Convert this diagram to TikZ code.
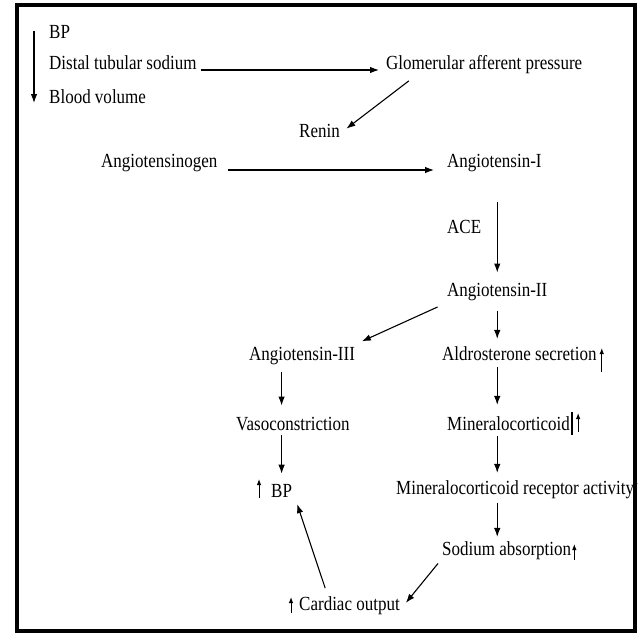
\documentclass[tikz,border=0pt]{standalone}
\usepackage{fontspec}
\setmainfont{Liberation Serif}[FakeStretch=0.85]
\usetikzlibrary{arrows.meta}
\begin{document}
\begin{tikzpicture}[x=1pt,y=-1pt,term/.style={anchor=base west,inner sep=4pt,font=\fontsize{20}{24}\selectfont},flow/.style={-{Latex[length=9pt,width=6.5pt]},line width=1.1pt,shorten >=3pt},rise/.style={-{Latex[length=6pt,width=4.5pt]},line width=1pt}]
\useasboundingbox (0,0) rectangle (639,634);
\draw[line width=4pt] (17,5) rectangle (634.5,631);

\node[term] (bp1) at (45,38) {BP};
\node[term] (dts) at (45,70) {Distal tubular sodium};
\node[term] (bv) at (45,103) {Blood volume};
\draw[flow,shorten >=0pt] ([xshift=-11pt]bp1.west) -- ([xshift=-11pt]bv.base west);
\node[term] (gap) at (382,70) {Glomerular afferent pressure};
\draw[flow] (dts.base east) -- (gap.base west);

\node[term] (renin) at (295,137) {Renin};
\draw[flow,shorten <=4pt] ([xshift=30pt]gap.south west) -- (renin.east);

\node[term] (agen) at (97,167) {Angiotensinogen};
\node[term] (ang1) at (443,167) {Angiotensin-I};
\draw[flow,shorten <=6pt,shorten >=9pt] ([yshift=-3pt]agen.base east) -- ([yshift=-3pt]ang1.base west);

\node[term] (ace) at (443,233) {ACE};
\node[term] (ang2) at (443,296) {Angiotensin-II};
\draw[flow,shorten <=26pt,shorten >=6pt] (ang1.south -| ang2.south) -- (ang2.north);

\node[term] (ang3) at (245,360) {Angiotensin-III};
\node[term] (aldo) at (438,360) {Aldrosterone secretion};
\draw[flow,shorten <=6pt] (ang2.south west) -- (ang3.north east);
\draw[flow,shorten <=6pt] (ang2.south) -- (ang2.south |- aldo.north);
\draw[rise] ([xshift=1pt,yshift=-12pt]aldo.base east) -- ++(0pt,24pt);

\node[term] (vaso) at (232,430) {Vasoconstriction};
\node[term] (mc) at (443,430) {Mineralocorticoid};
\node[term] (bp2) at (267,497) {BP};
\draw[flow,shorten <=3pt,shorten >=7pt] (ang3.south -| bp2.south) -- (vaso.north -| bp2.south);
\draw[flow,shorten <=3pt,shorten >=7pt] (aldo.south -| ang2.south) -- (mc.north -| ang2.south);
\draw[line width=2.5pt] ([xshift=-2pt,yshift=-5pt]mc.base east) -- ++(0pt,23pt);
\draw[rise] ([xshift=4pt,yshift=-2pt]mc.base east) -- ++(0pt,19pt);
\draw[flow,shorten >=6pt] (vaso.south -| bp2.south) -- (bp2.north);
\draw[rise] ([xshift=-8pt,yshift=-1pt]bp2.base west) -- ++(0pt,19pt);

\node[term] (mra) at (392,494) {Mineralocorticoid receptor activity};
\draw[flow,shorten <=2pt] (mc.south -| ang2.south) -- (mra.north -| ang2.south);
\draw[rise] ([xshift=-3pt,yshift=-4pt]mra.base east) -- ++(0pt,20pt);

\node[term] (sab) at (438,555) {Sodium absorption};
\draw[flow,shorten >=0pt] (mra.south -| ang2.south) -- (sab.north -| ang2.south);
\draw[rise] ([xshift=-1pt,yshift=-5pt]sab.base east) -- ++(0pt,16pt);

\node[term] (co) at (295,610) {Cardiac output};
\draw[rise] ([xshift=-4pt,yshift=-3pt]co.base west) -- ++(0pt,16pt);
\draw[flow] (sab.south west) -- (co.east);
\draw[flow,shorten <=4pt] ([xshift=-23pt]co.north) -- (bp2.south east);
\end{tikzpicture}
\end{document}
